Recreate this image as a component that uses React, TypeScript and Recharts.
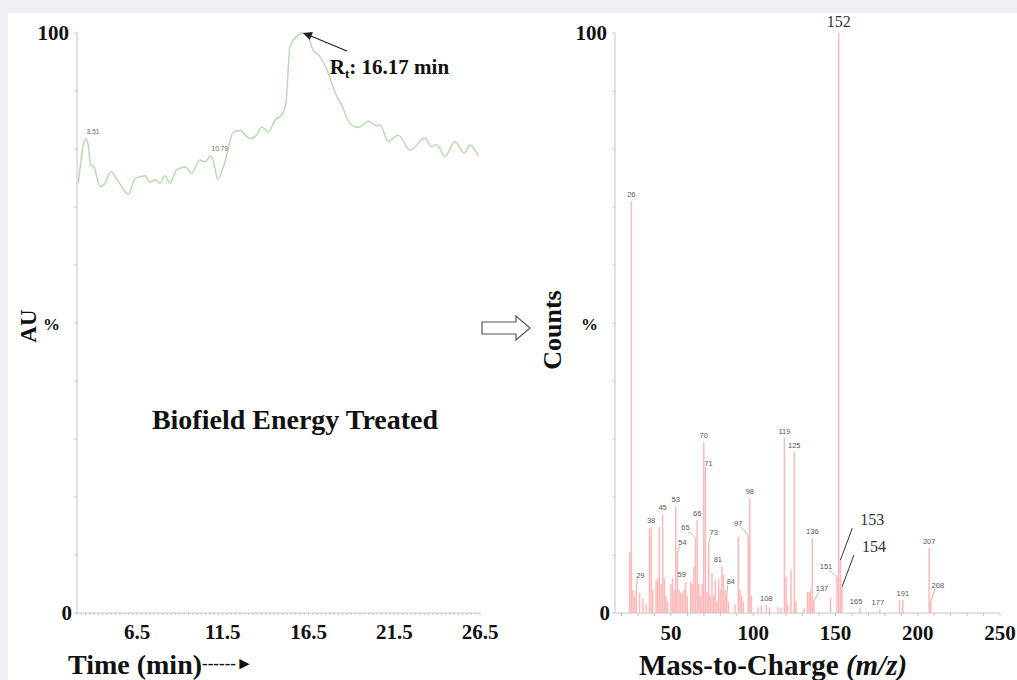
import React from "react";
import {
  LineChart,
  Line,
  BarChart,
  Bar,
  XAxis,
  YAxis,
  ReferenceDot,
  LabelList,
} from "recharts";

// chromatogram (left panel)
const retentionTime = [
  3.08, 3.51, 3.65, 3.8, 3.99, 4.34, 4.63, 4.98, 5.31, 5.99, 6.38, 6.67, 6.97, 7.26, 7.55, 7.84,
  8.13, 8.42, 8.81, 9.3, 9.69, 10.17, 10.46, 10.79, 11.01, 11.2, 11.63, 12.11, 12.5, 13.09, 13.48,
  13.77, 14.15, 14.55, 14.94, 15.17, 15.42, 15.71, 16.17, 16.41, 16.76, 17.17, 17.58, 18.16, 18.43,
  18.92, 19.4, 19.99, 20.48, 20.67, 21.15, 21.73, 22.42, 23.29, 23.64, 23.97, 24.46, 25.04, 25.58,
  25.92, 26.4,
];
const auPercent = [
  74.2, 81.8, 80.7, 77.3, 76.9, 73.5, 74.1, 76.1, 74.9, 72.2, 74.9, 75.2, 75.4, 74.3, 74.7, 74.1,
  75.4, 74.1, 76.4, 76.9, 75.8, 78.1, 77.8, 78.8, 77.2, 74.8, 77.8, 82.9, 83.2, 81.8, 82.4,
  83.8, 82.9, 85.0, 85.9, 87.6, 97.6, 99.1, 100, 99.7, 97.1, 95.9, 93.6, 89.0, 87.6,
  84.4, 83.7, 84.8, 84.0, 84.2, 81.3, 82.4, 79.8, 81.9, 80.4, 80.8, 78.7, 81.3, 79.3,
  80.7, 78.8,
];
const chromPeaks = [
  { time: 3.51, au: 81.8, label: "3.51" },
  { time: 10.79, au: 78.8, label: "10.79" },
];
const timeTickLabels = ["6.5", "11.5", "16.5", "21.5", "26.5"];

// mass spectrum (right panel)
const massToCharge = [
  25, 26, 27, 28, 29, 31, 33, 35, 37, 38, 39, 41, 42, 43, 44, 45, 46, 47, 48, 50, 51, 52, 53, 54,
  55, 56, 57, 58, 59, 60, 62, 63, 64, 65, 66, 67, 68, 69, 70, 71, 72, 73, 74, 75, 76, 77, 78, 79,
  80, 81, 82, 83, 84, 85, 89, 91, 92, 93, 94, 97, 98, 99, 103, 105, 108, 110, 115, 117, 119, 120,
  121, 123, 125, 126, 131, 133, 134, 135, 136, 137, 147, 151, 152, 153, 154, 165, 177, 189, 191,
  207, 208,
];
const counts = [
  10.5, 71, 4, 3, 4, 3.5, 2.5, 1.5, 14.5, 14.8, 4, 5.5, 6, 14.8, 5, 17, 6, 3, 2, 5, 6, 4, 18.4, 10.3,
  4, 3.5, 3.5, 4, 5.3, 3, 5.5, 5, 8, 12.9, 16, 5, 3, 5, 29.5, 24.1, 3.6, 12, 3, 6.9, 3, 5.7, 2, 6,
  4, 8, 6.6, 4, 3, 2, 1.5, 13.1, 4, 3, 2, 13.4, 19.8, 3, 1, 1.4, 1.4, 1, 1, 0.8, 30.2, 6.2,
  1.5, 7.4, 27.8, 2, 0.8, 3.6, 3.6, 4, 12.9, 2.2, 2.6, 6.2, 100, 9.1, 4.5, 0.9, 0.7, 2.2, 2.2,
  11.2, 1.9,
];
const labelledMz = [
  26, 29, 38, 45, 53, 54, 59, 65, 66, 70, 71, 73, 81, 84, 97, 98, 108, 119, 125, 136, 137, 151,
  152, 153, 154, 165, 177, 191, 207, 208,
];
const massTicks = [50, 100, 150, 200, 250];

const chromData = retentionTime.map((time, i) => ({ time, au: auPercent[i] }));
const specData = massToCharge.map((mz, i) => ({
  mz,
  counts: counts[i],
  label: labelledMz.includes(mz) ? String(mz) : "",
}));

const SERIF = '"Liberation Serif", "Times New Roman", serif';
const SANS = '"Liberation Sans", Arial, sans-serif';
const AXIS = "#c4c4c4";
const TICK_FONT = 21;

const pctTicks = [0, 10, 20, 30, 40, 50, 60, 70, 80, 90, 100];
const timeMinor: number[] = [];
for (let t = 3; t <= 26.5; t += 0.25) timeMinor.push(Math.round(t * 100) / 100);
const massMinor: number[] = [];
for (let m = 20; m <= 250; m += 10) massMinor.push(m);

// label placement tweaks: [dx, dy, leader line?]
const LABEL_OFFSETS: Record<string, [number, number, boolean]> = {
  "29": [4, -10, true],
  "54": [5, -6, true],
  "59": [-4, -3, false],
  "65": [-10, -6, true],
  "71": [3, -5, true],
  "73": [5, -6, true],
  "81": [-4, -3, false],
  "84": [4, -10, true],
  "97": [-10, -7, true],
  "137": [8, -7, true],
  "151": [-11, -6, true],
  "153": [20, -31, true],
  "154": [20, -31, true],
  "165": [-4, -2, false],
  "177": [-2, -2, false],
  "208": [7, -12, true],
};
const BIG_LABELS = ["152", "153", "154"];

const renderPeakLabel = (props: any) => {
  const { x, y, width, value } = props;
  if (!value) return null;
  const cx = Number(x) + Number(width) / 2;
  const top = Number(y);
  const [dx, dy, leader] = LABEL_OFFSETS[value] ?? [0, -2, false];
  const big = BIG_LABELS.includes(value);
  const tx = cx + dx;
  const ty = top + dy - (big ? 4 : 2);
  return (
    <g>
      {leader && (
        <line
          x1={cx}
          y1={top}
          x2={tx - (dx > 0 ? (big ? 8 : 3) : -3)}
          y2={ty + (big ? 3 : 1)}
          stroke={big ? "#333" : "#888"}
          strokeWidth={big ? 1 : 0.6}
        />
      )}
      <text
        x={tx}
        y={ty}
        textAnchor={big && leader ? "start" : "middle"}
        fontFamily={big ? SERIF : SANS}
        fontSize={big ? 16 : 7.5}
        fill={big ? "#333" : "#555"}
      >
        {value}
      </text>
    </g>
  );
};

const PctTick = (props: any) => {
  const { x, y, payload } = props;
  const v = payload.value;
  const text = v === 100 ? "100" : v === 50 ? "%" : v === 0 ? "0" : "";
  if (!text) return null;
  const dx = v === 50 ? -12 : v === 0 ? 0 : -3;
  return (
    <text
      x={x + dx}
      y={y + 7}
      textAnchor="end"
      fontFamily={SERIF}
      fontWeight="bold"
      fontSize={v === 50 ? 17 : TICK_FONT}
      fill="#111"
    >
      {text}
    </text>
  );
};

const TimeTick = (props: any) => {
  const { x, y, payload } = props;
  const s = String(payload.value);
  if (!timeTickLabels.includes(s)) return null;
  return (
    <text x={x} y={y + 22} textAnchor="middle" fontFamily={SERIF} fontWeight="bold" fontSize={TICK_FONT} fill="#111">
      {s}
    </text>
  );
};

const MassTick = (props: any) => {
  const { x, y, payload } = props;
  if (!massTicks.includes(payload.value)) return null;
  return (
    <text x={x} y={y + 22} textAnchor="middle" fontFamily={SERIF} fontWeight="bold" fontSize={TICK_FONT} fill="#111">
      {payload.value}
    </text>
  );
};

const PeakMark = (props: any) => {
  const { cx, cy, label } = props;
  return (
    <text x={cx + 1} y={cy - 5} fontFamily={SANS} fontSize={6.5} fill="#666">
      {label}
    </text>
  );
};

const RtArrow = (props: any) => {
  const { cx, cy } = props;
  return (
    <g>
      <line x1={cx + 44} y1={cy + 18} x2={cx + 8} y2={cy + 3} stroke="#222" strokeWidth={1.3} />
      <polygon points={`${cx},${cy} ${cx + 10},${cy - 1} ${cx + 7},${cy + 7}`} fill="#222" />
      <text x={cx + 27} y={cy + 41} fontFamily={SERIF} fontWeight="bold" fontSize={21} fill="#111">
        R<tspan fontSize={13} dy={4}>t</tspan>
        <tspan dy={-4}>: 16.17 min</tspan>
      </text>
    </g>
  );
};

export default function App() {
  return (
    <div style={{ position: "fixed", left: 0, top: 0, width: 1017, height: 680, background: "#eef0f3", overflow: "hidden" }}>
      <div style={{ position: "absolute", left: 8, top: 13, width: 1009, height: 667, background: "#fff" }} />

      <div style={{ position: "absolute", left: 0, top: 0 }}>
        <LineChart width={500} height={680} data={chromData} margin={{ top: 33, right: 20, bottom: 37, left: 0 }}>
          <XAxis
            dataKey="time"
            type="number"
            domain={[3, 26.5]}
            ticks={timeMinor}
            interval={0}
            tick={<TimeTick />}
            tickSize={2}
            height={30}
            stroke={AXIS}
          />
          <YAxis
            type="number"
            domain={[0, 100]}
            ticks={pctTicks}
            interval={0}
            tick={<PctTick />}
            tickSize={3}
            width={77}
            stroke={AXIS}
          />
          <Line
            type="monotone"
            dataKey="au"
            stroke="#b4d9ae"
            strokeWidth={1.4}
            dot={false}
            isAnimationActive={false}
          />
          {chromPeaks.map((p) => (
            <ReferenceDot
              key={p.label}
              x={p.time}
              y={p.au}
              r={0}
              shape={(s: any) => <PeakMark {...s} label={p.label} />}
            />
          ))}
          <ReferenceDot x={16.17} y={100} r={0} shape={(s: any) => <RtArrow {...s} />} />
        </LineChart>
      </div>

      <div style={{ position: "absolute", left: 520, top: 0 }}>
        <BarChart width={500} height={680} data={specData} margin={{ top: 33, right: 20, bottom: 37, left: 0 }}>
          <XAxis
            dataKey="mz"
            type="number"
            domain={[16, 250]}
            ticks={massMinor}
            interval={0}
            tick={<MassTick />}
            tickSize={3}
            height={30}
            stroke={AXIS}
          />
          <YAxis
            type="number"
            domain={[0, 100]}
            ticks={pctTicks}
            interval={0}
            tick={<PctTick />}
            tickSize={3}
            width={95}
            stroke={AXIS}
          />
          <Bar dataKey="counts" fill="#ffb7b7" barSize={3} isAnimationActive={false}>
            <LabelList dataKey="label" content={renderPeakLabel} />
          </Bar>
        </BarChart>
      </div>

      <svg width={1017} height={680} style={{ position: "absolute", left: 0, top: 0, pointerEvents: "none" }}>
        <text
          x={36}
          y={326}
          transform="rotate(-90 36 326)"
          textAnchor="middle"
          fontFamily={SERIF}
          fontWeight="bold"
          fontSize={23}
          fill="#111"
        >
          AU
        </text>
        <text x={68} y={674} fontFamily={SERIF} fontWeight="bold" fontSize={28} fill="#111">
          Time (min)
          <tspan fontSize={17} dy={-5}>------►</tspan>
        </text>
        <text x={295} y={429} textAnchor="middle" fontFamily={SERIF} fontWeight="bold" fontSize={28} fill="#111">
          Biofield Energy Treated
        </text>
        <polygon
          points="482,322 516,322 516,316 530,328 516,340 516,334 482,334"
          fill="#fff"
          stroke="#555"
          strokeWidth={1.2}
        />
        <text
          x={561}
          y={330}
          transform="rotate(-90 561 330)"
          textAnchor="middle"
          fontFamily={SERIF}
          fontWeight="bold"
          fontSize={26}
          fill="#111"
        >
          Counts
        </text>
        <text x={773} y={675} textAnchor="middle" fontFamily={SERIF} fontWeight="bold" fontSize={29} fill="#111">
          Mass-to-Charge <tspan fontStyle="italic">(m/z)</tspan>
        </text>
      </svg>
    </div>
  );
}
